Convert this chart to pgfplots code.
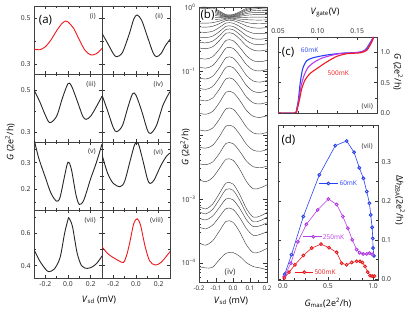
\documentclass[border=0pt]{standalone}
\usepackage{fontspec}
\setmainfont{Open Sans}
\usepackage{pgfplots}
\pgfplotsset{compat=1.18}
\definecolor{mblue}{RGB}{40,65,245}
\definecolor{mpurp}{RGB}{185,60,235}
\definecolor{mred}{RGB}{240,25,30}
\pgfplotsset{
 base/.style={scale only axis, anchor=north west, axis line style={line width=0.8bp, black!75}, tick style={black!80, line width=0.5bp}, major tick length=3bp, minor tick length=1.8bp, tick align=inside, xtick pos=both, ytick pos=both, tick label style={font=\fontsize{6.8}{7}\selectfont, text=black!85}, /pgf/number format/assume math mode=true},
 apan/.style={base, width=68bp, height=68bp, xmin=-0.3, xmax=0.3, xtick={-0.2,0,0.2}, minor xtick={-0.1,0.1}, xticklabels={}, /pgf/number format/fixed, /pgf/number format/fixed zerofill, /pgf/number format/precision=1},
 aline/.style={black!85, line width=0.9bp, smooth},
 rline/.style={mred, line width=0.9bp, smooth},
 bline/.style={black!75, line width=0.45bp, smooth},
 r1/.style={ymin=0.257, ymax=0.552, ytick={0.3,0.5}, minor ytick={0.4}},
 r2/.style={ymin=0.252, ymax=0.576, ytick={0.3,0.5}, minor ytick={0.4}},
 r3/.style={ymin=0.122, ymax=0.378, ytick={0.2,0.3}, minor ytick={0.15,0.25,0.35}},
 r4/.style={ymin=0.324, ymax=0.744, ytick={0.4,0.6}, minor ytick={0.5,0.7}},
}
\tikzset{rn/.style={anchor=north east, inner sep=0pt, font=\fontsize{7}{7}\selectfont, text=black!80}}
\newcommand{\lab}{\fontsize{9}{9}\selectfont}
\begin{document}
\begin{tikzpicture}
\useasboundingbox (0,0) rectangle (416bp,317bp);
% ---------------- (a) ----------------
\begin{axis}[apan, r1, at={(34bp,311bp)}]
\addplot[rline] coordinates {(-0.3,0.365)(-0.25,0.362)(-0.2,0.375)(-0.15,0.405)(-0.1,0.445)(-0.05,0.478)(-0.02,0.487)(0.0,0.483)(0.05,0.455)(0.1,0.405)(0.15,0.36)(0.2,0.34)(0.25,0.345)(0.3,0.368)};
\node[rn] at (rel axis cs:0.91,0.9) {(i)};
\node[font=\fontsize{11.5}{11.5}\selectfont] at (rel axis cs:0.17,0.79) {(a)};
\end{axis}
\begin{axis}[apan, r1, at={(102bp,311bp)}, yticklabels={}]
\addplot[aline] coordinates {(-0.3,0.433)(-0.25,0.39)(-0.2,0.345)(-0.17,0.332)(-0.12,0.35)(-0.06,0.43)(-0.02,0.495)(0.01,0.513)(0.05,0.49)(0.1,0.42)(0.15,0.35)(0.18,0.332)(0.22,0.345)(0.26,0.38)(0.3,0.407)};
\node[rn] at (rel axis cs:0.9,0.9) {(ii)};
\end{axis}
\begin{axis}[apan, r2, at={(34bp,243bp)}]
\addplot[aline] coordinates {(-0.3,0.5)(-0.25,0.445)(-0.2,0.38)(-0.16,0.344)(-0.1,0.375)(-0.05,0.46)(0.0,0.53)(0.03,0.52)(0.08,0.45)(0.13,0.375)(0.16,0.36)(0.2,0.375)(0.25,0.42)(0.3,0.47)};
\node[rn] at (rel axis cs:0.91,0.9) {(iii)};
\end{axis}
\begin{axis}[apan, r2, at={(102bp,243bp)}, yticklabels={}]
\addplot[aline] coordinates {(-0.3,0.476)(-0.25,0.4)(-0.2,0.32)(-0.17,0.301)(-0.12,0.33)(-0.07,0.42)(-0.03,0.482)(0.0,0.475)(0.05,0.4)(0.1,0.31)(0.13,0.293)(0.18,0.33)(0.24,0.43)(0.3,0.492)};
\node[rn] at (rel axis cs:0.9,0.9) {(iv)};
\end{axis}
\begin{axis}[apan, r3, at={(34bp,175bp)}]
\addplot[aline] coordinates {(-0.3,0.39)(-0.26,0.32)(-0.2,0.245)(-0.15,0.185)(-0.1,0.155)(-0.07,0.17)(-0.03,0.25)(0.0,0.302)(0.03,0.275)(0.07,0.18)(0.1,0.143)(0.14,0.16)(0.2,0.24)(0.25,0.3)(0.3,0.37)};
\node[rn] at (rel axis cs:0.91,0.9) {(v)};
\end{axis}
\begin{axis}[apan, r3, at={(102bp,175bp)}, yticklabels={}]
\addplot[aline] coordinates {(-0.3,0.33)(-0.25,0.26)(-0.2,0.222)(-0.14,0.21)(-0.1,0.23)(-0.05,0.31)(-0.01,0.37)(0.02,0.372)(0.06,0.31)(0.1,0.24)(0.124,0.222)(0.16,0.235)(0.22,0.29)(0.27,0.325)(0.3,0.336)};
\node[rn] at (rel axis cs:0.9,0.9) {(vi)};
\end{axis}
\begin{axis}[apan, r4, at={(34bp,107bp)}, xticklabels={-0.2,0.0,0.2}]
\addplot[aline] coordinates {(-0.3,0.5)(-0.25,0.43)(-0.2,0.38)(-0.17,0.363)(-0.12,0.38)(-0.07,0.45)(-0.03,0.6)(0.0,0.685)(0.01,0.693)(0.04,0.64)(0.08,0.48)(0.12,0.4)(0.17,0.383)(0.22,0.395)(0.26,0.42)(0.3,0.46)};
\node[rn] at (rel axis cs:0.91,0.9) {(vii)};
\end{axis}
\begin{axis}[apan, r4, at={(102bp,107bp)}, yticklabels={}, xticklabels={-0.2,0.0,0.2}]
\addplot[rline] coordinates {(-0.3,0.517)(-0.25,0.475)(-0.2,0.45)(-0.15,0.43)(-0.11,0.42)(-0.08,0.47)(-0.05,0.56)(-0.02,0.66)(0.01,0.69)(0.04,0.65)(0.08,0.52)(0.12,0.43)(0.17,0.404)(0.22,0.42)(0.27,0.46)(0.3,0.487)};
\node[rn] at (rel axis cs:0.9,0.9) {(viii)};
\end{axis}
\node[rotate=90, font=\lab] at (10bp,175bp) {\textit{G} (2e\textsuperscript{2}/h)};
\node[font=\lab] at (99bp,17bp) {\textit{V}\textsubscript{sd} (mV)};
% ---------------- (b) ----------------
\begin{axis}[base, at={(199bp,310bp)}, width=68bp, height=275bp, xmin=-0.2, xmax=0.2, ymin=-4.3, ymax=0,
 xtick={-0.2,-0.1,0,0.1,0.2}, minor xtick={-0.15,-0.05,0.05,0.15}, xticklabels={-0.2,-0.1,0.0,0.1,0.2},
 xticklabel style={font=\fontsize{6.3}{6.3}\selectfont},
 ytick={-4,-3,-2,-1,0}, yticklabels={10\textsuperscript{−4},10\textsuperscript{−3},,10\textsuperscript{−1},10\textsuperscript{0}},
 minor ytick={-4.222,-4.155,-4.097,-4.046,-3.699,-3.523,-3.398,-3.301,-3.222,-3.155,-3.097,-3.046,-2.699,-2.523,-2.398,-2.301,-2.222,-2.155,-2.097,-2.046,-1.699,-1.523,-1.398,-1.301,-1.222,-1.155,-1.097,-1.046,-0.699,-0.523,-0.398,-0.301,-0.222,-0.155,-0.097,-0.046},
 major tick length=4bp]
\addplot[bline] coordinates {(-0.2,-0.005)(-0.16,-0.003)(-0.12,-0.014)(-0.08,-0.063)(-0.04,-0.12)(0,-0.118)(0.04,-0.074)(0.08,-0.019)(0.12,-0.004)(0.16,-0.002)(0.2,-0.004)};
\addplot[bline] coordinates {(-0.2,-0.025)(-0.16,-0.02)(-0.12,-0.033)(-0.08,-0.078)(-0.04,-0.13)(0,-0.128)(0.04,-0.088)(0.08,-0.038)(0.12,-0.012)(0.16,-0.008)(0.2,-0.014)};
\addplot[bline] coordinates {(-0.2,-0.045)(-0.16,-0.04)(-0.12,-0.053)(-0.08,-0.093)(-0.04,-0.14)(0,-0.138)(0.04,-0.102)(0.08,-0.056)(0.12,-0.031)(0.16,-0.026)(0.2,-0.034)};
\addplot[bline] coordinates {(-0.2,-0.07)(-0.16,-0.066)(-0.12,-0.076)(-0.08,-0.11)(-0.04,-0.15)(0,-0.148)(0.04,-0.118)(0.08,-0.08)(0.12,-0.058)(0.16,-0.054)(0.2,-0.06)};
\addplot[bline] coordinates {(-0.2,-0.095)(-0.16,-0.092)(-0.12,-0.1)(-0.08,-0.125)(-0.04,-0.155)(0,-0.154)(0.04,-0.131)(0.08,-0.102)(0.12,-0.086)(0.16,-0.083)(0.2,-0.088)};
\addplot[bline] coordinates {(-0.2,-0.125)(-0.16,-0.123)(-0.12,-0.128)(-0.08,-0.143)(-0.04,-0.16)(0,-0.159)(0.04,-0.146)(0.08,-0.129)(0.12,-0.12)(0.16,-0.118)(0.2,-0.121)};
\addplot[bline] coordinates {(-0.2,-0.16)(-0.16,-0.16)(-0.12,-0.161)(-0.08,-0.165)(-0.04,-0.17)(0,-0.17)(0.04,-0.166)(0.08,-0.161)(0.12,-0.159)(0.16,-0.158)(0.2,-0.159)};
\addplot[bline] coordinates {(-0.2,-0.2)(-0.16,-0.201)(-0.12,-0.198)(-0.08,-0.19)(-0.04,-0.18)(0,-0.18)(0.04,-0.188)(0.08,-0.198)(0.12,-0.203)(0.16,-0.204)(0.2,-0.202)};
\addplot[bline] coordinates {(-0.2,-0.25)(-0.16,-0.253)(-0.12,-0.245)(-0.08,-0.22)(-0.04,-0.19)(0,-0.191)(0.04,-0.214)(0.08,-0.243)(0.12,-0.259)(0.16,-0.262)(0.2,-0.257)};
\addplot[bline] coordinates {(-0.2,-0.31)(-0.16,-0.315)(-0.12,-0.302)(-0.08,-0.26)(-0.04,-0.21)(0,-0.212)(0.04,-0.25)(0.08,-0.298)(0.12,-0.325)(0.16,-0.33)(0.2,-0.322)};
\addplot[bline] coordinates {(-0.2,-0.39)(-0.16,-0.397)(-0.12,-0.379)(-0.08,-0.32)(-0.04,-0.25)(0,-0.253)(0.04,-0.306)(0.08,-0.373)(0.12,-0.411)(0.16,-0.418)(0.2,-0.407)};
\addplot[bline] coordinates {(-0.2,-0.47)(-0.16,-0.479)(-0.12,-0.456)(-0.08,-0.385)(-0.04,-0.3)(0,-0.303)(0.04,-0.368)(0.08,-0.45)(0.12,-0.496)(0.16,-0.504)(0.2,-0.49)};
\addplot[bline] coordinates {(-0.2,-0.55)(-0.16,-0.56)(-0.12,-0.534)(-0.08,-0.45)(-0.04,-0.35)(0,-0.354)(0.04,-0.43)(0.08,-0.526)(0.12,-0.58)(0.16,-0.59)(0.2,-0.574)};
\addplot[bline] coordinates {(-0.2,-0.64)(-0.16,-0.652)(-0.12,-0.622)(-0.08,-0.525)(-0.04,-0.41)(0,-0.415)(0.04,-0.502)(0.08,-0.612)(0.12,-0.675)(0.16,-0.686)(0.2,-0.668)};
\addplot[bline] coordinates {(-0.2,-0.8)(-0.16,-0.814)(-0.12,-0.778)(-0.08,-0.66)(-0.04,-0.52)(0,-0.526)(0.04,-0.632)(0.08,-0.766)(0.12,-0.842)(0.16,-0.856)(0.2,-0.834)};
\addplot[bline] coordinates {(-0.2,-0.94)(-0.16,-0.955)(-0.12,-0.916)(-0.08,-0.79)(-0.04,-0.64)(0,-0.646)(0.04,-0.76)(0.08,-0.904)(0.12,-0.985)(0.16,-1.0)(0.2,-0.976)};
\addplot[bline] coordinates {(-0.2,-1.11)(-0.16,-1.126)(-0.12,-1.084)(-0.08,-0.95)(-0.04,-0.79)(0,-0.796)(0.04,-0.918)(0.08,-1.072)(0.12,-1.158)(0.16,-1.174)(0.2,-1.148)};
\addplot[bline] coordinates {(-0.2,-1.27)(-0.16,-1.287)(-0.12,-1.244)(-0.08,-1.105)(-0.04,-0.94)(0,-0.947)(0.04,-1.072)(0.08,-1.23)(0.12,-1.32)(0.16,-1.336)(0.2,-1.31)};
\addplot[bline] coordinates {(-0.2,-1.45)(-0.16,-1.467)(-0.12,-1.424)(-0.08,-1.285)(-0.04,-1.12)(0,-1.127)(0.04,-1.252)(0.08,-1.41)(0.12,-1.5)(0.16,-1.516)(0.2,-1.49)};
\addplot[bline] coordinates {(-0.2,-1.66)(-0.16,-1.677)(-0.12,-1.634)(-0.08,-1.495)(-0.04,-1.33)(0,-1.337)(0.04,-1.462)(0.08,-1.62)(0.12,-1.71)(0.16,-1.726)(0.2,-1.7)};
\addplot[bline] coordinates {(-0.2,-1.92)(-0.16,-1.937)(-0.12,-1.894)(-0.08,-1.755)(-0.04,-1.59)(0,-1.597)(0.04,-1.722)(0.08,-1.88)(0.12,-1.97)(0.16,-1.986)(0.2,-1.96)};
\addplot[bline] coordinates {(-0.2,-2.19)(-0.16,-2.207)(-0.12,-2.164)(-0.08,-2.025)(-0.04,-1.86)(0,-1.867)(0.04,-1.992)(0.08,-2.15)(0.12,-2.24)(0.16,-2.256)(0.2,-2.23)};
\addplot[bline] coordinates {(-0.2,-2.45)(-0.16,-2.466)(-0.12,-2.424)(-0.08,-2.29)(-0.04,-2.13)(0,-2.136)(0.04,-2.258)(0.08,-2.412)(0.12,-2.498)(0.16,-2.514)(0.2,-2.488)};
\addplot[bline] coordinates {(-0.2,-2.7)(-0.16,-2.732)(-0.12,-2.668)(-0.08,-2.524)(-0.04,-2.38)(0,-2.396)(0.04,-2.54)(0.08,-2.732)(0.12,-2.844)(0.16,-2.828)(0.2,-2.78)};
\addplot[bline] coordinates {(-0.2,-3.12)(-0.16,-3.157)(-0.12,-3.083)(-0.08,-2.916)(-0.04,-2.75)(0,-2.768)(0.04,-2.935)(0.08,-3.157)(0.12,-3.287)(0.16,-3.268)(0.2,-3.213)};
\addplot[bline] coordinates {(-0.2,-3.2)(-0.16,-3.235)(-0.12,-3.165)(-0.08,-3.007)(-0.04,-2.85)(0,-2.867)(0.04,-3.025)(0.08,-3.235)(0.12,-3.358)(0.16,-3.34)(0.2,-3.288)};
\addplot[bline] coordinates {(-0.2,-3.3)(-0.16,-3.33)(-0.12,-3.27)(-0.08,-3.135)(-0.04,-3.0)(0,-3.015)(0.04,-3.15)(0.08,-3.33)(0.12,-3.435)(0.16,-3.42)(0.2,-3.375)};
\addplot[bline] coordinates {(-0.2,-3.44)(-0.16,-3.469)(-0.12,-3.411)(-0.08,-3.28)(-0.04,-3.15)(0,-3.164)(0.04,-3.295)(0.08,-3.469)(0.12,-3.571)(0.16,-3.556)(0.2,-3.513)};
\addplot[bline] coordinates {(-0.2,-3.69)(-0.16,-3.724)(-0.12,-3.656)(-0.08,-3.503)(-0.04,-3.35)(0,-3.367)(0.04,-3.52)(0.08,-3.724)(0.12,-3.843)(0.16,-3.826)(0.2,-3.775)};
\addplot[bline] coordinates {(-0.2,-4.06)(-0.16,-4.08)(-0.12,-4.07)(-0.08,-3.95)(-0.04,-3.85)(0,-3.84)(0.04,-3.9)(0.08,-4.0)(0.12,-4.06)(0.16,-4.08)(0.2,-4.11)};
\node[fill=white, inner sep=0.6bp, font=\fontsize{11.5}{11.5}\selectfont] at (rel axis cs:0.125,0.971) {(b)};
\node[font=\fontsize{8}{8}\selectfont, text=black!80] at (rel axis cs:0.456,0.034) {(iv)};
\end{axis}
\node[rotate=90, font=\lab] at (185bp,170bp) {\textit{G} (2e\textsuperscript{2}/h)};
\node[font=\lab] at (231bp,16bp) {\textit{V}\textsubscript{sd} (mV)};
% ---------------- (c) ----------------
\begin{axis}[base, at={(278bp,280bp)}, width=99bp, height=76bp, xmin=0.05, xmax=0.175, ymin=0, ymax=1.25,
 xtick={0.05,0.1,0.15}, xticklabels={0.05,0.10,0.15}, xticklabel pos=upper, minor xtick={0.075,0.125},
 ytick={0,0.5,1}, yticklabels={0.0,0.5,1.0}, yticklabel pos=upper, minor ytick={0.25,0.75}]
\addplot[mblue, line width=1.1bp, smooth, tension=0.4] coordinates {(0.05,0)(0.0715,0)(0.0735,0.06)(0.0757,0.213)(0.078,0.49)(0.0812,0.73)(0.0863,0.86)(0.0947,0.91)(0.112,0.955)(0.1327,0.985)(0.154,1.0)(0.161,1.05)(0.1665,1.16)(0.1705,1.25)};
\addplot[mpurp, line width=1.1bp, smooth, tension=0.4] coordinates {(0.05,0)(0.0715,0)(0.0738,0.055)(0.0762,0.21)(0.0792,0.45)(0.083,0.62)(0.088,0.75)(0.095,0.83)(0.105,0.9)(0.118,0.95)(0.13,0.98)(0.15,0.995)(0.1615,1.04)(0.167,1.15)(0.1708,1.25)};
\addplot[mred, line width=1.1bp, smooth, tension=0.4] coordinates {(0.05,0)(0.0715,0)(0.074,0.05)(0.077,0.21)(0.08,0.4)(0.084,0.54)(0.0905,0.65)(0.099,0.73)(0.1116,0.84)(0.124,0.93)(0.137,0.975)(0.154,0.99)(0.162,1.03)(0.1673,1.14)(0.1712,1.25)};
\node[font=\fontsize{11.5}{11.5}\selectfont] at (axis cs:0.0627,1.0) {(c)};
\node[font=\fontsize{6.5}{6.5}\selectfont, text=mblue] at (axis cs:0.0899,1.03) {60mK};
\node[font=\fontsize{6.5}{6.5}\selectfont, text=mred] at (axis cs:0.126,0.656) {500mK};
\node[font=\fontsize{7}{7}\selectfont, text=black!80] at (axis cs:0.1627,0.1) {(vii)};
\end{axis}
\node[font=\lab] at (325bp,304bp) {\textit{V}\textsubscript{gate}(V)};
\node[rotate=-90, font=\lab] at (398bp,245bp) {\textit{G} (2e\textsuperscript{2}/h)};
% ---------------- (d) ----------------
\begin{axis}[base, at={(278bp,192bp)}, width=100bp, height=155bp, xmin=-0.055, xmax=1.055, ymin=-0.003, ymax=0.395,
 xtick={0,0.5,1}, xticklabels={0.0,0.5,1.0}, minor x tick num=3,
 ytick={0,0.1,0.2,0.3}, yticklabels={0.0,0.1,0.2,0.3}, yticklabel pos=upper, minor y tick num=1]
\addplot[mblue, line width=0.6bp, mark=ball, mark size=1.6bp, mark options={ball color=mblue}] coordinates {(0.02,0.012)(0.095,0.062)(0.226,0.16)(0.404,0.267)(0.581,0.342)(0.707,0.354)(0.789,0.325)(0.848,0.285)(0.893,0.258)(0.93,0.224)(0.96,0.194)(0.974,0.164)(0.99,0.132)(0.997,0.104)(1.0,0.079)(1.01,0.059)};
\addplot[mpurp, line width=0.6bp, mark=ball, mark size=1.6bp, mark options={ball color=mpurp}] coordinates {(0.015,0.006)(0.088,0.04)(0.165,0.095)(0.26,0.14)(0.385,0.177)(0.505,0.205)(0.596,0.191)(0.665,0.16)(0.72,0.13)(0.77,0.1)(0.818,0.075)(0.85,0.067)(0.89,0.064)(0.93,0.064)(0.96,0.066)(0.99,0.063)};
\addplot[mred, line width=0.6bp, mark=ball, mark size=1.6bp, mark options={ball color=mred}] coordinates {(0.015,0.002)(0.067,0.017)(0.133,0.036)(0.226,0.06)(0.319,0.079)(0.422,0.089)(0.511,0.08)(0.596,0.068)(0.652,0.04)(0.707,0.036)(0.763,0.042)(0.818,0.045)(0.855,0.045)(0.882,0.042)(0.911,0.032)(0.941,0.017)(0.967,0.008)(0.99,0.007)(1.015,0.007)};
\addplot[mblue, line width=0.6bp, mark=ball, mark size=1.6bp, mark options={ball color=mblue}, mark indices={2}] coordinates {(0.404,0.245)(0.504,0.245)(0.615,0.245)};
\addplot[mpurp, line width=0.6bp, mark=ball, mark size=1.6bp, mark options={ball color=mpurp}, mark indices={2}] coordinates {(0.226,0.108)(0.337,0.108)(0.43,0.108)};
\addplot[mred, line width=0.6bp, mark=ball, mark size=1.6bp, mark options={ball color=mred}, mark indices={2}] coordinates {(0.133,0.017)(0.237,0.017)(0.337,0.017)};
\node[anchor=west, inner sep=1bp, font=\fontsize{6.5}{6.5}\selectfont, text=mblue] at (axis cs:0.615,0.245) {60mK};
\node[anchor=west, inner sep=1bp, font=\fontsize{6.5}{6.5}\selectfont, text=mpurp] at (axis cs:0.43,0.108) {250mK};
\node[anchor=west, inner sep=1bp, font=\fontsize{6.5}{6.5}\selectfont, text=mred] at (axis cs:0.337,0.017) {500mK};
\node[font=\fontsize{11.5}{11.5}\selectfont] at (axis cs:0.061,0.356) {(d)};
\node[font=\fontsize{7}{7}\selectfont, text=black!80] at (axis cs:0.935,0.341) {(vii)};
\end{axis}
\node[font=\lab] at (328bp,14bp) {\textit{G}\textsubscript{max}(2e\textsuperscript{2}/h)};
\node[rotate=-90, font=\lab] at (400bp,117bp) {Δ\textit{h}\textsubscript{ZBA}(2e\textsuperscript{2}/h)};
\end{tikzpicture}
\end{document}
